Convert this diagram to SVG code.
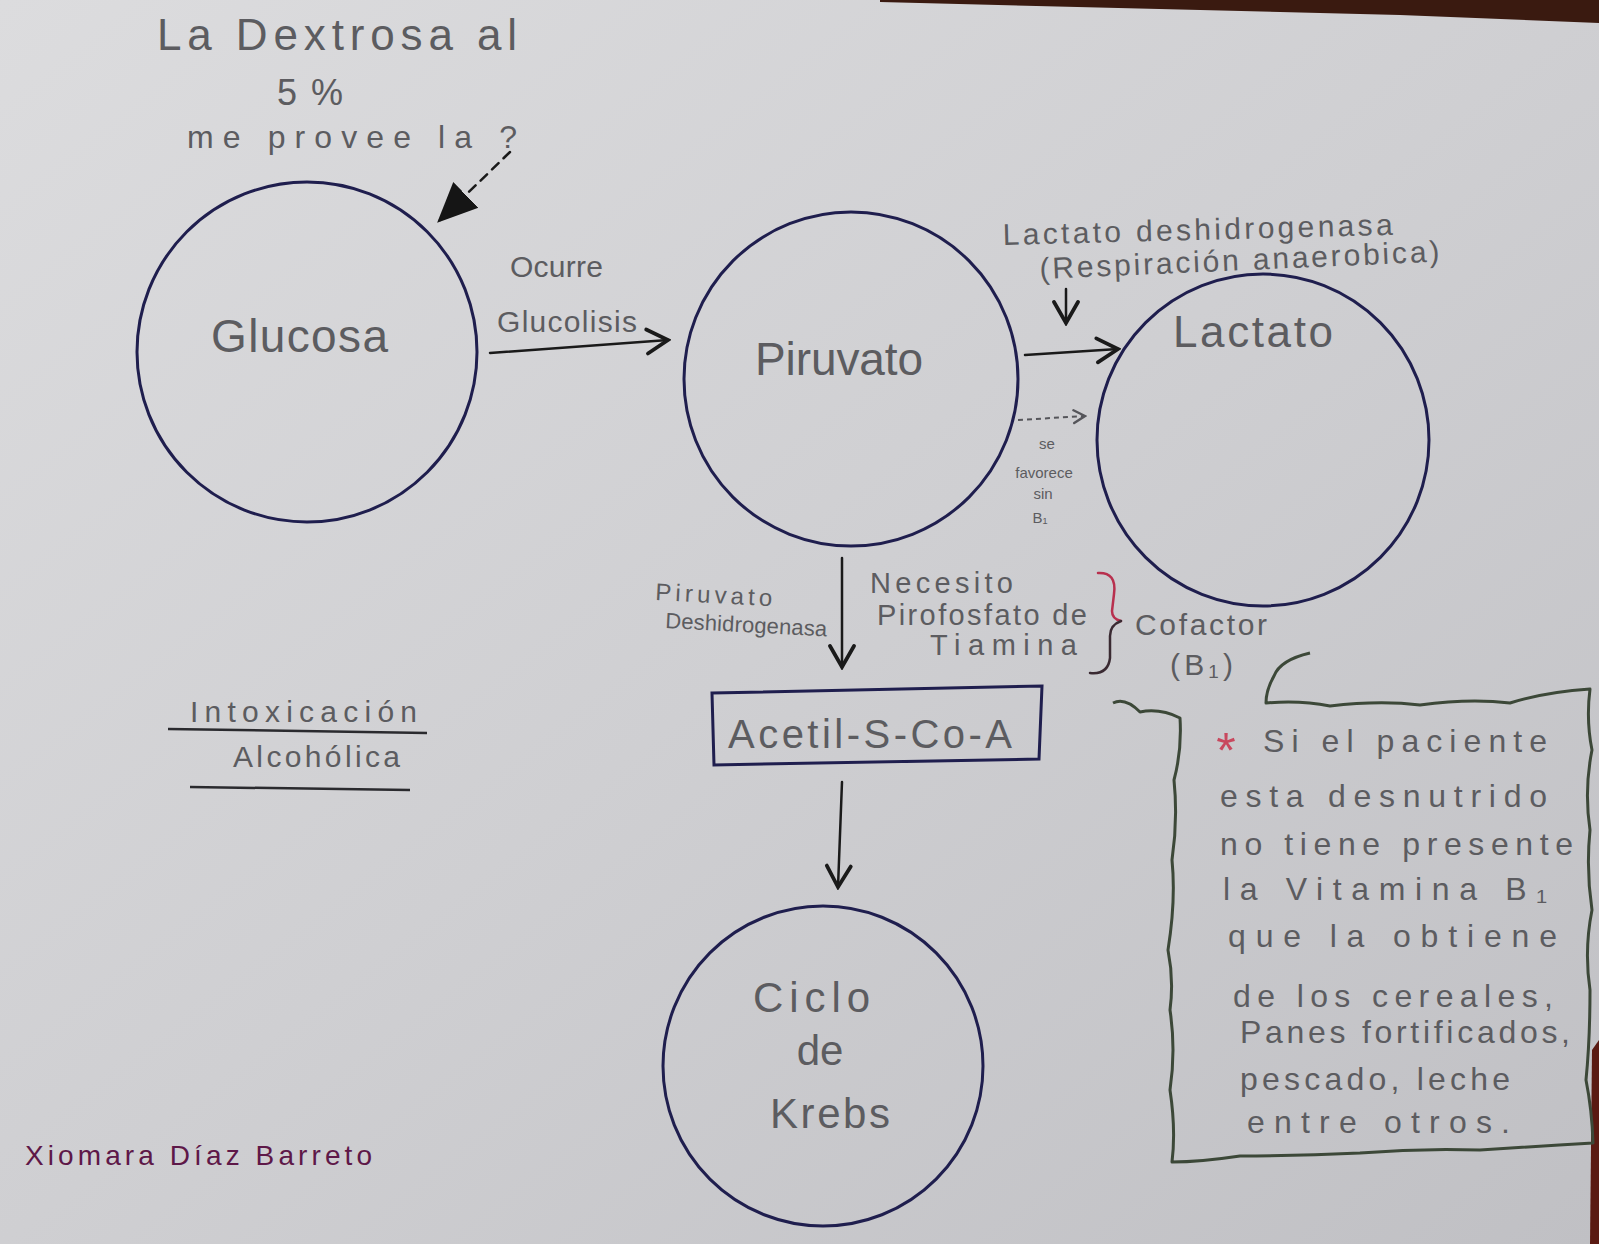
<svg xmlns="http://www.w3.org/2000/svg" width="1599" height="1244" viewBox="0 0 1599 1244">
<defs>
<linearGradient id="paper" x1="0" y1="0" x2="1" y2="1">
<stop offset="0" stop-color="#dcdcde"/>
<stop offset="0.5" stop-color="#cfcfd2"/>
<stop offset="1" stop-color="#c0c0c4"/>
</linearGradient>
<marker id="chev" markerUnits="userSpaceOnUse" markerWidth="30" markerHeight="30" viewBox="0 0 20 20" refX="18" refY="10" orient="auto">
<path d="M4,2 L18,10 L4,18" fill="none" stroke="#1a1a1a" stroke-width="2.5" stroke-linecap="round"/>
</marker>
<marker id="chevs" markerUnits="userSpaceOnUse" markerWidth="16" markerHeight="16" viewBox="0 0 20 20" refX="18" refY="10" orient="auto">
<path d="M4,2 L18,10 L4,18" fill="none" stroke="#55555a" stroke-width="3" stroke-linecap="round"/>
</marker>
<marker id="tri" markerUnits="userSpaceOnUse" markerWidth="40" markerHeight="40" viewBox="0 0 20 20" refX="18" refY="10" orient="auto">
<path d="M0,1 L20,10 L0,19 Z" fill="#151515"/>
</marker>
<style>
.node { fill: none; stroke: #1f1e4e; stroke-width: 3; }
.t { font-family: "Liberation Sans", Arial, sans-serif; fill: #5c5c60; }
.c { text-anchor: middle; }
.conn { fill: none; stroke: #1a1a1a; stroke-width: 2.5; stroke-linecap: round; }
</style>
</defs>
<rect width="1599" height="1244" fill="url(#paper)"/>
<polygon points="880,0 1599,0 1599,23 1400,15 880,2" fill="#3a1a10"/>
<polygon points="1592,1050 1599,1040 1599,1244 1590,1244" fill="#5a1a12"/>

<g id="title" class="t">
<text x="157" y="50" font-size="44" textLength="360" lengthAdjust="spacing">La Dextrosa al</text>
<text x="277" y="105" font-size="36" textLength="66" lengthAdjust="spacing">5 %</text>
<text x="187" y="148" font-size="32" textLength="330" lengthAdjust="spacing">me provee la ?</text>
</g>

<g id="connectors">
<line class="conn" x1="510" y1="152" x2="440" y2="220" stroke-dasharray="9 7" marker-end="url(#tri)"/>
<line class="conn" x1="490" y1="353" x2="668" y2="340" marker-end="url(#chev)"/>
<line class="conn" x1="1025" y1="355" x2="1118" y2="349" marker-end="url(#chev)"/>
<line class="conn" x1="1066" y1="289" x2="1066" y2="323" marker-end="url(#chev)"/>
<line x1="1018" y1="420" x2="1085" y2="416" fill="none" stroke="#55555a" stroke-width="2" stroke-dasharray="5 4" marker-end="url(#chevs)"/>
<line class="conn" x1="842" y1="558" x2="842" y2="667" marker-end="url(#chev)"/>
<line class="conn" x1="842" y1="782" x2="838" y2="887" marker-end="url(#chev)"/>
</g>

<g id="glucosa">
<circle class="node" cx="307" cy="352" r="170"/>
<text class="t" x="211" y="352" font-size="46" textLength="177" lengthAdjust="spacing">Glucosa</text>
</g>

<g id="glucolisis-label" class="t">
<text x="510" y="277" font-size="30" textLength="93" lengthAdjust="spacing">Ocurre</text>
<text x="497" y="332" font-size="30" textLength="140" lengthAdjust="spacing">Glucolisis</text>
</g>

<g id="piruvato">
<circle class="node" cx="851" cy="379" r="167"/>
<text class="t" x="755" y="375" font-size="46" textLength="168" lengthAdjust="spacing">Piruvato</text>
</g>

<g id="ldh-label" class="t">
<text x="1003" y="245" font-size="30" textLength="390" lengthAdjust="spacing" transform="rotate(-1.5 1003 245)">Lactato deshidrogenasa</text>
<text x="1040" y="279" font-size="30" textLength="400" lengthAdjust="spacing" transform="rotate(-2.5 1040 279)">(Respiración anaerobica)</text>
</g>

<g id="lactato">
<circle class="node" cx="1263" cy="440" r="166"/>
<text class="t" x="1173" y="347" font-size="44" textLength="160" lengthAdjust="spacing">Lactato</text>
</g>

<g id="sin-b1" class="t c" font-size="15">
<text x="1047" y="449">se</text>
<text x="1044" y="478">favorece</text>
<text x="1043" y="499">sin</text>
<text x="1040" y="523">B₁</text>
</g>

<g id="pdh-label" class="t">
<text x="655" y="600" font-size="24" textLength="117" lengthAdjust="spacing" transform="rotate(3 655 600)">Piruvato</text>
<text x="665" y="628" font-size="22" textLength="162" lengthAdjust="spacing" transform="rotate(3 665 628)">Deshidrogenasa</text>
</g>

<g id="tpp-label" class="t">
<text x="870" y="593" font-size="29" textLength="143" lengthAdjust="spacing">Necesito</text>
<text x="877" y="625" font-size="29" textLength="210" lengthAdjust="spacing">Pirofosfato de</text>
<text x="930" y="655" font-size="29" textLength="147" lengthAdjust="spacing">Tiamina</text>
</g>

<g id="cofactor">
<path d="M1098,573 Q1117,572 1114,594 L1112,611 Q1112,619 1121,621" fill="none" stroke="#b8304e" stroke-width="2.5" stroke-linecap="round"/>
<path d="M1121,621 Q1110,625 1110,636 L1110,658 Q1108,675 1090,673" fill="none" stroke="#3a2a32" stroke-width="2.5" stroke-linecap="round"/>
<text class="t" x="1135" y="635" font-size="30" textLength="132" lengthAdjust="spacing">Cofactor</text>
<text class="t" x="1170" y="675" font-size="30" textLength="63" lengthAdjust="spacing">(B₁)</text>
</g>

<g id="acetil">
<polygon class="node" points="712,693 1042,686 1039,759 714,765" stroke="#2a2040"/>
<text class="t" x="728" y="748" font-size="40" textLength="284" lengthAdjust="spacing">Acetil-S-Co-A</text>
</g>

<g id="krebs">
<circle class="node" cx="823" cy="1066" r="160"/>
<text class="t" x="753" y="1012" font-size="42" textLength="117" lengthAdjust="spacing">Ciclo</text>
<text class="t c" x="820" y="1065" font-size="42">de</text>
<text class="t" x="770" y="1128" font-size="42" textLength="120" lengthAdjust="spacing">Krebs</text>
</g>

<g id="intoxicacion">
<text class="t" x="190" y="722" font-size="30" textLength="227" lengthAdjust="spacing">Intoxicación</text>
<line x1="168" y1="729" x2="427" y2="733" stroke="#2a2a2e" stroke-width="2.5"/>
<text class="t" x="233" y="767" font-size="30" textLength="167" lengthAdjust="spacing">Alcohólica</text>
<line x1="190" y1="787" x2="410" y2="790" stroke="#2a2a2e" stroke-width="2.5"/>
</g>

<g id="nota">
<path d="M1310,653 Q1280,660 1274,676 Q1266,690 1266,703 Q1300,700 1330,706 Q1380,700 1420,705 Q1470,698 1510,703 Q1545,692 1590,689 Q1586,720 1592,750 Q1584,790 1590,830 Q1586,870 1592,910 Q1584,950 1590,990 Q1590,1040 1586,1080 Q1592,1110 1593,1143 Q1540,1146 1480,1150 Q1420,1148 1360,1153 Q1300,1156 1240,1156 Q1200,1162 1172,1162 Q1176,1130 1170,1090 Q1176,1050 1170,1010 Q1174,980 1168,950 Q1176,900 1172,860 Q1178,820 1174,780 Q1182,750 1180,718 Q1160,708 1140,712 Q1125,697 1113,703" fill="none" stroke="#3c4838" stroke-width="3" stroke-linejoin="round"/>
<text x="1226" y="768" font-family="Liberation Sans, sans-serif" font-size="50" fill="#c8485e" text-anchor="middle">*</text>
<g class="t" font-size="32">
<text x="1263" y="752" textLength="284" lengthAdjust="spacing">Si el paciente</text>
<text x="1220" y="807" textLength="327" lengthAdjust="spacing">esta desnutrido</text>
<text x="1220" y="855" textLength="353" lengthAdjust="spacing">no tiene presente</text>
<text x="1223" y="900" textLength="324" lengthAdjust="spacing">la Vitamina B₁</text>
<text x="1228" y="947" textLength="329" lengthAdjust="spacing">que la obtiene</text>
<text x="1233" y="1007" textLength="320" lengthAdjust="spacing">de los cereales,</text>
<text x="1240" y="1043" textLength="330" lengthAdjust="spacing">Panes fortificados,</text>
<text x="1240" y="1090" textLength="270" lengthAdjust="spacing">pescado, leche</text>
<text x="1247" y="1133" textLength="263" lengthAdjust="spacing">entre otros.</text>
</g>
</g>

<g id="firma">
<text x="25" y="1165" font-family="Liberation Sans, sans-serif" font-size="28" fill="#5e1848" textLength="347" lengthAdjust="spacing">Xiomara Díaz Barreto</text>
</g>
</svg>
